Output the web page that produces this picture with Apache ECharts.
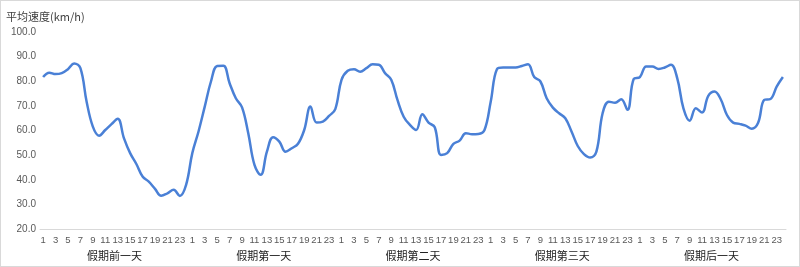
<!DOCTYPE html>
<html><head><meta charset="utf-8">
<script src="https://cdn.jsdelivr.net/npm/echarts@6/dist/echarts.min.js"></script>
<style>html,body{margin:0;padding:0;background:#fff}#c{width:798px;height:265px;border:1px solid #d9d9d9}</style>
</head><body><div id="c"></div>
<script>
var days = ['假期前一天','假期第一天','假期第二天','假期第三天','假期后一天'];
var hours = [1,2,3,4,5,6,7,8,9,10,11,12,13,14,15,16,17,18,19,20,21,22,23,24];
var dayBefore = [81.7,83.5,82.9,83.3,84.9,87.2,85.3,71.7,61.6,57.9,60.2,62.6,64.8,56.9,50.8,46.4,41.3,39.2,36.3,33.5,34.5,35.9,33.4,37.9];
var day1 = [50.8,59.6,69.7,79.9,86.2,86.3,79.2,73.1,69.4,58.9,46.0,42.0,51.4,57.3,55.5,51.4,52.8,54.6,60.2,69.7,63.2,63.6,65.9,68.7];
var day2 = [80.6,84.3,84.9,83.9,85.3,86.9,86.7,83.3,80.6,72.4,65.6,62.3,60.2,66.6,63.2,61.3,50.1,50.8,54.6,55.9,58.9,58.5,58.6,60.2];
var day3 = [71.7,84.9,85.6,85.6,85.6,86.2,86.9,81.7,79.9,73.1,69.3,67.0,65.0,59.6,53.7,50.4,49.0,51.4,67.0,71.7,71.3,72.7,68.4,80.9];
var dayAfter = [81.7,86.0,86.0,85.0,85.6,86.7,81.3,69.0,64.0,69.0,67.3,74.1,75.8,72.7,66.3,63.2,62.7,62.0,60.7,63.0,72.4,72.8,77.8,81.7];
var yMin = 20, yMax = 100, yStep = 10;

var cats = [], vals = [];
[dayBefore, day1, day2, day3, dayAfter].forEach(function(d, di){
  d.forEach(function(v, hi){ cats.push(di + '-' + hours[hi]); vals.push(v); });
});
var chart = echarts.init(document.getElementById('c'));
chart.setOption({
  animation: false,
  title: {text: '平均速度(km/h)', left: 0, top: 5, textStyle: {fontSize: 11, fontWeight: 'normal', color: '#404040', fontFamily: 'Noto Sans CJK SC'}},
  grid: {left: 39, right: 13, top: 31, bottom: 37},
  xAxis: [{
    type: 'category', data: cats, boundaryGap: true,
    axisLine: {lineStyle: {color: '#d9d9d9'}}, axisTick: {show: false},
    axisLabel: {interval: 1, color: '#595959', fontSize: 9.5, margin: 6, fontFamily: 'Liberation Sans',
      formatter: function(v){ return v.split('-')[1]; }}
  },{
    type: 'category', data: days, position: 'bottom', offset: 17, boundaryGap: true,
    axisLine: {show: false}, axisTick: {show: false},
    axisLabel: {color: '#222', fontSize: 11, fontFamily: 'Noto Sans CJK SC', margin: 4}
  }],
  yAxis: {type: 'value', min: yMin, max: yMax, interval: yStep,
    splitLine: {show: false}, axisLine: {show: false}, axisTick: {show: false},
    axisLabel: {color: '#595959', fontSize: 10, margin: 4, fontFamily: 'Liberation Sans', formatter: function(v){return v.toFixed(1);}}},
  series: [{type: 'line', data: vals, smooth: 0.4, symbol: 'none', xAxisIndex: 0,
    lineStyle: {color: '#4a80d6', width: 2.5}}]
});
</script></body></html>
